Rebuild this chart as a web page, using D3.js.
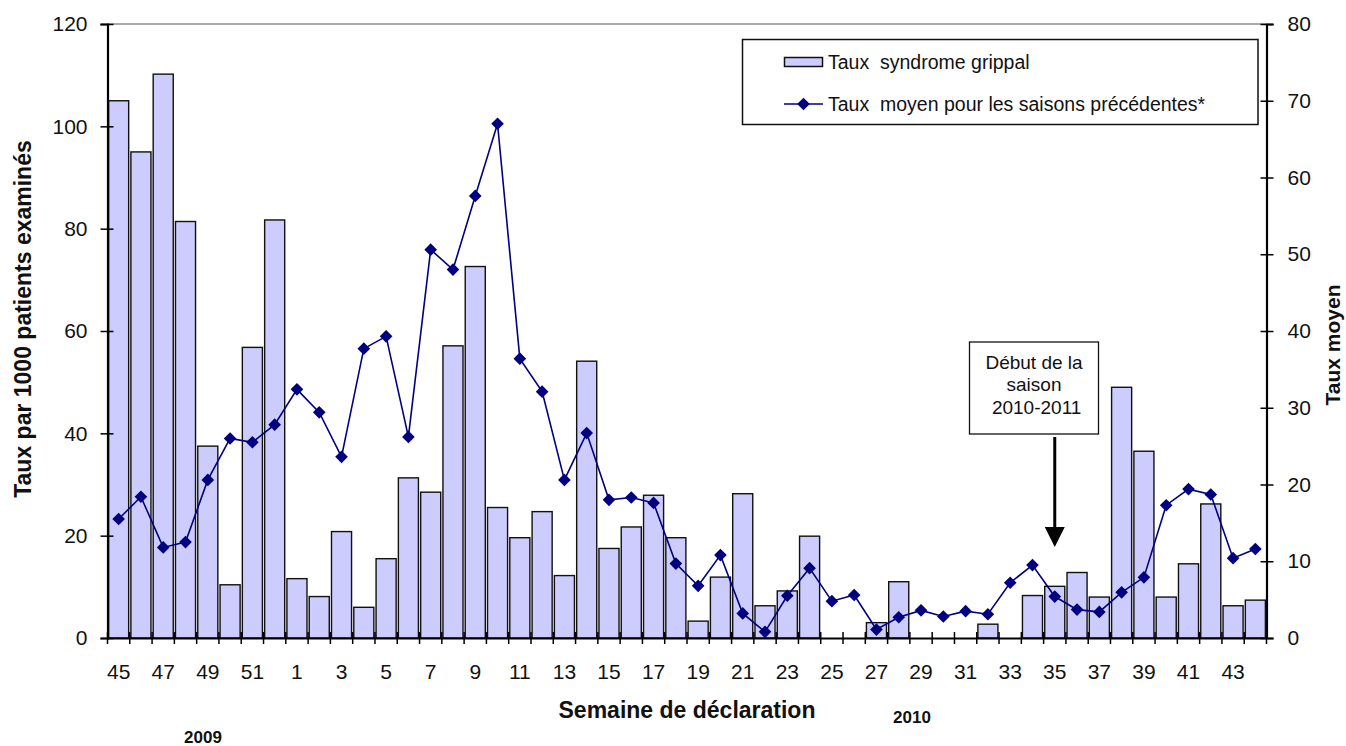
<!DOCTYPE html>
<html>
<head>
<meta charset="utf-8">
<script src="https://cdn.jsdelivr.net/npm/d3@7"></script>
<style>
  html, body { margin: 0; padding: 0; background: #fff; }
  svg { display: block; font-family: "Liberation Sans", Arial, sans-serif; }
</style>
</head>
<body>
<svg id="chart" width="1346" height="746"></svg>
<script>
// ---- data ----
const weeks = ["45","46","47","48","49","50","51","52",
  "1","2","3","4","5","6","7","8","9","10","11","12","13","14","15","16","17","18","19","20",
  "21","22","23","24","25","26","27","28","29","30","31","32","33","34","35","36","37","38","39","40",
  "41","42","43","44"];
const tauxSyndrome = [105, 95, 110.2, 81.4, 37.5, 10.4, 56.8, 81.7,
  11.6, 8.1, 20.8, 6.0, 15.5, 31.3, 28.5, 57.1, 72.6, 25.5, 19.6, 24.7, 12.2, 54.1, 17.5, 21.7, 27.9, 19.6, 3.3, 11.9,
  28.2, 6.3, 9.2, 19.9, 0, 0, 3.0, 11.0, 0, 0, 0, 2.7, 0, 8.3, 10.1, 12.8, 8.0, 49.0, 36.5, 8.0,
  14.5, 26.2, 6.3, 7.4];
const tauxMoyen = [15.5, 18.4, 11.8, 12.5, 20.6, 26.0, 25.5, 27.8,
  32.4, 29.4, 23.6, 37.7, 39.3, 26.2, 50.6, 48.0, 57.6, 67.0, 36.4, 32.1, 20.6, 26.7, 18.0, 18.3, 17.6, 9.7, 6.8, 10.8,
  3.2, 0.8, 5.5, 9.1, 4.8, 5.6, 1.1, 2.7, 3.6, 2.8, 3.5, 3.1, 7.2, 9.5, 5.4, 3.7, 3.4, 5.95, 7.9, 17.3,
  19.4, 18.7, 10.4, 11.6];
const leftTicks = [0, 20, 40, 60, 80, 100, 120];
const rightTicks = [0, 10, 20, 30, 40, 50, 60, 70, 80];
const legendLabels = ["Taux  syndrome grippal", "Taux  moyen pour les saisons précédentes*"];
const annotationLines = ["Début de la", "saison", " 2010-2011"];
const annotationWeek = "35";

// ---- layout ----
const X0 = 107.5, X1 = 1266.5, YT = 24, YB = 638;
const svg = d3.select("#chart");

const x = d3.scaleBand().domain(weeks).range([X0, X1]).paddingInner(0.1).paddingOuter(0.05);
const yL = d3.scaleLinear().domain([0, 120]).range([YB, YT]);
const yR = d3.scaleLinear().domain([0, 80]).range([YB, YT]);
const step = x.step();
const center = w => x(w) + x.bandwidth() / 2;

// top gray border
svg.append("line").attr("x1", X0).attr("x2", X1).attr("y1", YT).attr("y2", YT)
  .attr("stroke", "#8c8c8c").attr("stroke-width", 1.5);

// bars
svg.append("g").selectAll("rect")
  .data(weeks.map((w, i) => ({w, v: tauxSyndrome[i]})).filter(d => d.v > 0))
  .join("rect")
  .attr("x", d => x(d.w))
  .attr("width", x.bandwidth())
  .attr("y", d => yL(d.v))
  .attr("height", d => yL(0) - yL(d.v))
  .attr("fill", "#ccccff")
  .attr("stroke", "#111")
  .attr("stroke-width", 1.4);

// left axis
const gL = svg.append("g").attr("transform", `translate(${X0},0)`)
  .call(d3.axisLeft(yL).tickValues(leftTicks).tickSize(7).tickPadding(13));
gL.select(".domain").attr("stroke", "#000").attr("stroke-width", 2.2);
gL.selectAll(".tick line").attr("x1", 6).attr("x2", -7).attr("stroke", "#000").attr("stroke-width", 1.5);
gL.selectAll(".tick text").attr("font-size", 21).attr("fill", "#111").attr("font-family", "Liberation Sans, Arial, sans-serif");

// right axis
const gR = svg.append("g").attr("transform", `translate(${X1},0)`)
  .call(d3.axisRight(yR).tickValues(rightTicks).tickSize(7).tickPadding(14));
gR.select(".domain").attr("stroke", "#000").attr("stroke-width", 2.2);
gR.selectAll(".tick line").attr("x1", -6).attr("x2", 7).attr("stroke", "#000").attr("stroke-width", 1.5);
gR.selectAll(".tick text").attr("font-size", 21).attr("fill", "#111").attr("font-family", "Liberation Sans, Arial, sans-serif");

// bottom axis (labels at centers, every other week)
const gB = svg.append("g").attr("transform", `translate(0,${YB})`)
  .call(d3.axisBottom(x).tickSize(0).tickPadding(26)
    .tickFormat((d, i) => (i % 2 === 0 ? d : "")));
gB.select(".domain").attr("stroke", "#000").attr("stroke-width", 2.2);
gB.selectAll(".tick text").attr("font-size", 21).attr("fill", "#111").attr("font-family", "Liberation Sans, Arial, sans-serif");
// boundary ticks crossing the axis
const bounds = weeks.map(w => x(w) - x.paddingInner() * step / 2).concat([X1]);
svg.append("g").selectAll("line").data(bounds).join("line")
  .attr("x1", d => d).attr("x2", d => d)
  .attr("y1", YB - 6).attr("y2", YB + 6)
  .attr("stroke", "#000").attr("stroke-width", 1.5);

// line series
const line = d3.line().x((d, i) => center(weeks[i])).y(d => yR(d));
svg.append("path").datum(tauxMoyen).attr("d", line)
  .attr("fill", "none").attr("stroke", "#000080").attr("stroke-width", 1.6);
const diamond = d3.symbol().type(d3.symbolSquare).size(80);
svg.append("g").selectAll("path").data(tauxMoyen).join("path")
  .attr("d", diamond)
  .attr("transform", (d, i) => `translate(${center(weeks[i])},${yR(d)}) rotate(45)`)
  .attr("fill", "#000080");

// axis titles
svg.append("text").attr("transform", "translate(31,319) rotate(-90)")
  .attr("text-anchor", "middle").attr("font-weight", "bold").attr("font-size", 23)
  .attr("fill", "#111").text("Taux par 1000 patients examinés");
svg.append("text").attr("transform", "translate(1340,345) rotate(-90)")
  .attr("text-anchor", "middle").attr("font-weight", "bold").attr("font-size", 21)
  .attr("fill", "#111").text("Taux moyen");
svg.append("text").attr("x", 687).attr("y", 718)
  .attr("text-anchor", "middle").attr("font-weight", "bold").attr("font-size", 23)
  .attr("fill", "#111").text("Semaine de déclaration");
svg.append("text").attr("x", 203).attr("y", 743)
  .attr("text-anchor", "middle").attr("font-weight", "bold").attr("font-size", 17)
  .attr("fill", "#111").text("2009");
svg.append("text").attr("x", 912).attr("y", 723)
  .attr("text-anchor", "middle").attr("font-weight", "bold").attr("font-size", 17)
  .attr("fill", "#111").text("2010");

// legend
const lg = svg.append("g");
lg.append("rect").attr("x", 742.5).attr("y", 39.5).attr("width", 515.5).attr("height", 85)
  .attr("fill", "#fff").attr("stroke", "#111").attr("stroke-width", 1.5);
lg.append("rect").attr("x", 784.5).attr("y", 57.5).attr("width", 38).attr("height", 9)
  .attr("fill", "#ccccff").attr("stroke", "#111").attr("stroke-width", 1.5);
lg.append("line").attr("x1", 784).attr("x2", 823).attr("y1", 104).attr("y2", 104)
  .attr("stroke", "#000080").attr("stroke-width", 1.6);
lg.append("path").attr("d", diamond).attr("transform", "translate(803.5,104) rotate(45)").attr("fill", "#000080");
lg.selectAll("text.lab").data(legendLabels).join("text").attr("class", "lab")
  .attr("x", 828).attr("y", (d, i) => i === 0 ? 69 : 111)
  .attr("font-size", 19.5).attr("fill", "#111")
  .style("white-space", "pre").text(d => d);

// annotation
const ax = center(annotationWeek);
svg.append("rect").attr("x", 969.5).attr("y", 342).attr("width", 129).attr("height", 92)
  .attr("fill", "#fff").attr("stroke", "#111").attr("stroke-width", 1.3);
svg.append("g").selectAll("text").data(annotationLines).join("text")
  .attr("x", 1034).attr("y", (d, i) => 369 + i * 22.3)
  .attr("text-anchor", "middle").attr("font-size", 19).attr("fill", "#111")
  .style("white-space", "pre").text(d => d);
svg.append("line").attr("x1", ax).attr("x2", ax).attr("y1", 437).attr("y2", 530)
  .attr("stroke", "#000").attr("stroke-width", 3);
svg.append("path")
  .attr("d", `M${ax - 10},527 L${ax + 10},527 L${ax},547 Z`).attr("fill", "#000");
</script>
</body>
</html>
